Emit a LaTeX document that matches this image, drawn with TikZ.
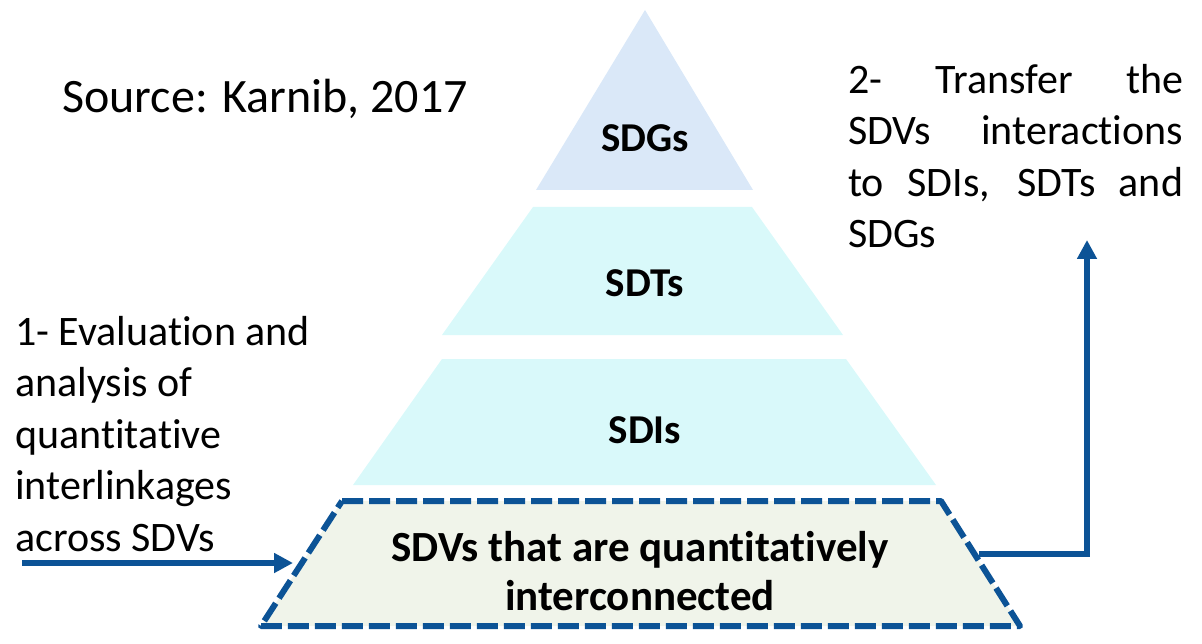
\documentclass[tikz,border=0pt]{standalone}
\usepackage{fontspec}
\setmainfont{Carlito}[Ligatures=NoCommon]
\usetikzlibrary{arrows.meta}
\definecolor{tierTop}{HTML}{DAE8F8}
\definecolor{tierMid}{HTML}{D9F9FA}
\definecolor{tierBase}{HTML}{F0F4EA}
\definecolor{flowBlue}{HTML}{0C5396}
\begin{document}
\begin{tikzpicture}[x=1pt,y=-1pt,
  tierlabel/.style={font=\fontsize{41}{49}\selectfont\bfseries, inner sep=0pt, align=center},
  note/.style={font=\fontsize{42}{51.5}\selectfont, inner sep=0pt, align=left, anchor=base west},
  flow/.style={draw=flowBlue, line width=5.5pt, -{Triangle[length=19pt,width=19pt]}},
  baseframe/.style={draw=flowBlue, line width=6pt, dash pattern=on 21pt off 6pt, fill=tierBase, line join=round}
]
\useasboundingbox (0,0) rectangle (1202,644);

% pyramid tiers
\fill[tierTop] (645,10) -- (753,190) -- (536,190) -- cycle;
\fill[tierMid] (533,207) -- (752,207) -- (843,335) -- (442,335) -- cycle;
\fill[tierMid] (442,359) -- (846,359) -- (936,485) -- (353,485) -- cycle;
\path[baseframe] (342,501) -- (941,501) -- (1020,626) -- (261,626) -- cycle;

% tier labels
\node[tierlabel] (sdgs) at (645,138) {SDGs};
\node[tierlabel] (sdts) at (645,283) {SDTs};
\node[tierlabel] (sdis) at (645,430) {SDIs};
\node[tierlabel, font=\fontsize{43}{49}\selectfont\bfseries] (sdvs) at (640,571) {SDVs that are quantitatively\\interconnected};

% side notes (anchored at the baseline of their last line)
\node[note, font=\fontsize{48}{58}\selectfont] (source) at (62,113) {Source: Karnib, 2017};
\node[note] (evalnote) at (15,551) {1- Evaluation and\\analysis of\\quantitative\\interlinkages\\across SDVs};
\node[note] (transfernote) at (848,248) {\makebox[335pt][s]{2- Transfer the}\\
  \makebox[335pt][s]{SDVs interactions}\\
  \makebox[335pt][s]{to SDIs, SDTs and}\\
  SDGs};

% flow arrows
\coordinate (inStart) at (22,563);
\coordinate (inEnd) at (293,563);
\coordinate (outStart) at (979,554);
\coordinate (outEnd) at (1087,240);
\draw[flow] (inStart) -- (inEnd);
\draw[flow] (outStart) -| (outEnd);
\end{tikzpicture}
\end{document}
